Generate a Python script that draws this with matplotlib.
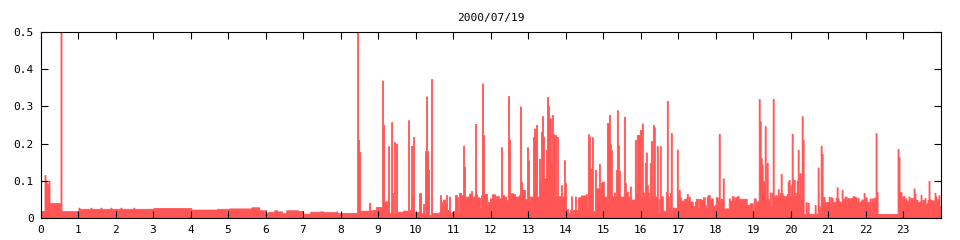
import numpy as np
import matplotlib
matplotlib.use("Agg")
import matplotlib.pyplot as plt

# run-length data: value of each run and how many ~1.6 min samples it lasts
night_levels = [0.018, 0.115, 0.1, 0.093, 0.088, 0.1, 0.04, 0.037, 0.04, 0.036, 0.5, 0.018,
                0.027, 0.024, 0.027, 0.024, 0.027, 0.024, 0.027, 0.024, 0.027, 0.024, 0.027, 0.024, 0.026,
                0.022, 0.024, 0.025, 0.028, 0.02, 0.012, 0.016, 0.02, 0.017, 0.012, 0.02, 0.018, 0.011, 0.016]
night_counts = [4, 1, 1, 1, 1, 1, 5, 1, 4, 1, 1, 17,
                1, 11, 1, 9, 1, 9, 1, 9, 1, 12, 1, 19, 38,
                26, 12, 22, 8, 7, 2, 6, 3, 5, 4, 12, 5, 7, 10]

day_levels = [0.017, 0.015, 0.017, 0.013, 0.5, 0.21, 0.177, 0.019, 0.04, 0.019, 0.021, 0.029,
              0.37, 0.25, 0.044, 0.193, 0.013, 0.258, 0.067, 0.007, 0.204, 0.016, 0.2, 0.016,
              0.019, 0.263, 0.021, 0.194, 0.058, 0.218, 0.015, 0.066, 0.012, 0.037, 0.012, 0.18,
              0.327, 0.18, 0.13, 0.008, 0.374, 0.013, 0.015, 0.061, 0.031, 0.043, 0.049, 0.049,
              0.038, 0.061, 0.021, 0.021, 0.057, 0.012, 0.015, 0.019, 0.061, 0.061, 0.055, 0.012,
              0.067, 0.061, 0.194, 0.138, 0.052, 0.057, 0.065, 0.072, 0.055, 0.058, 0.253, 0.064,
              0.055, 0.053, 0.025, 0.061, 0.362, 0.223, 0.064, 0.028, 0.043, 0.052, 0.063, 0.048,
              0.058, 0.052, 0.19, 0.061, 0.057, 0.048, 0.328, 0.21, 0.066, 0.064, 0.057, 0.061,
              0.3, 0.097, 0.075, 0.05, 0.19, 0.155, 0.045, 0.057, 0.218, 0.24, 0.218, 0.25,
              0.057, 0.159, 0.097, 0.232, 0.274, 0.219, 0.106, 0.106, 0.183, 0.326, 0.302, 0.268,
              0.268, 0.147, 0.277, 0.226, 0.223, 0.223, 0.059, 0.218, 0.058, 0.088, 0.057, 0.155,
              0.094, 0.024, 0.012, 0.021, 0.058, 0.007, 0.021, 0.057, 0.021, 0.055, 0.06, 0.064,
              0.025, 0.225, 0.219, 0.13, 0.133, 0.217, 0.016, 0.018, 0.129, 0.079, 0.145, 0.075,
              0.094, 0.097, 0.057, 0.255, 0.255, 0.277, 0.199, 0.183, 0.057, 0.068, 0.057, 0.129,
              0.29, 0.196, 0.127, 0.057, 0.057, 0.272, 0.094, 0.07, 0.057, 0.084, 0.049, 0.21,
              0.065, 0.223, 0.223]
day_counts = [3, 13, 1, 20, 1, 1, 1, 9, 1, 2, 4, 6,
              1, 1, 4, 1, 2, 1, 1, 1, 1, 1, 1, 6,
              5, 1, 2, 1, 1, 1, 5, 2, 2, 1, 1, 1,
              1, 1, 1, 2, 1, 7, 1, 1, 1, 1, 1, 1,
              1, 1, 1, 1, 1, 2, 2, 1, 1, 1, 1, 1,
              2, 2, 1, 1, 1, 3, 2, 1, 2, 1, 1, 1,
              2, 1, 1, 1, 1, 1, 3, 1, 2, 2, 3, 1,
              3, 2, 1, 2, 2, 2, 1, 1, 3, 2, 4, 1,
              1, 1, 3, 2, 1, 1, 1, 3, 1, 1, 1, 1,
              2, 1, 1, 1, 1, 1, 1, 1, 1, 1, 1, 1,
              1, 1, 1, 1, 1, 1, 1, 1, 3, 1, 2, 1,
              1, 2, 2, 1, 1, 1, 2, 1, 2, 3, 5, 1,
              1, 1, 1, 1, 1, 1, 1, 1, 1, 3, 1, 1,
              1, 2, 3, 1, 1, 1, 1, 1, 2, 1, 1, 1,
              1, 1, 1, 3, 1, 1, 1, 2, 2, 1, 4, 1,
              1, 1, 2]

evening_levels = [0.237, 0.057, 0.254, 0.068, 0.057, 0.148, 0.176, 0.088, 0.068, 0.048, 0.147, 0.207,
                  0.058, 0.25, 0.244, 0.058, 0.055, 0.193, 0.015, 0.05, 0.193, 0.05, 0.058, 0.019,
                  0.07, 0.315, 0.057, 0.025, 0.067, 0.228, 0.021, 0.027, 0.184, 0.061, 0.075, 0.055,
                  0.046, 0.051, 0.052, 0.064, 0.046, 0.057, 0.044, 0.043, 0.031, 0.043, 0.051, 0.025,
                  0.051, 0.048, 0.055, 0.034, 0.025, 0.057, 0.061, 0.045, 0.052, 0.032, 0.034, 0.055,
                  0.055, 0.046, 0.226, 0.046, 0.051, 0.049, 0.106, 0.025, 0.052, 0.046, 0.058, 0.048,
                  0.055, 0.058, 0.048, 0.051, 0.035, 0.039, 0.019, 0.052, 0.04, 0.043, 0.045, 0.32,
                  0.26, 0.161, 0.143, 0.099, 0.094, 0.247, 0.054, 0.148, 0.05, 0.045, 0.068, 0.031,
                  0.067, 0.32, 0.06, 0.054, 0.061, 0.055, 0.077, 0.058, 0.067, 0.118, 0.066, 0.06,
                  0.058, 0.064, 0.097, 0.102, 0.057, 0.087, 0.226, 0.064, 0.102, 0.059, 0.067, 0.1,
                  0.183, 0.063, 0.12, 0.05, 0.274, 0.21, 0.01, 0.042, 0.01, 0.04, 0.01, 0.034,
                  0.011, 0.135, 0.031, 0.027, 0.194, 0.172, 0.056, 0.042, 0.057, 0.037, 0.055, 0.053,
                  0.04, 0.043, 0.043, 0.054, 0.082, 0.052, 0.045, 0.042, 0.075, 0.049, 0.051, 0.057,
                  0.048, 0.053, 0.046, 0.053, 0.058, 0.055, 0.042, 0.053, 0.042, 0.046, 0.049, 0.067,
                  0.052, 0.055, 0.043, 0.039, 0.052, 0.021, 0.052, 0.041, 0.054, 0.054, 0.228, 0.069,
                  0.01, 0.185, 0.163, 0.069, 0.049, 0.058, 0.043, 0.052, 0.046, 0.057, 0.042, 0.053,
                  0.043, 0.079, 0.065, 0.048, 0.042, 0.044, 0.062, 0.04, 0.048, 0.053, 0.035, 0.039,
                  0.048, 0.099, 0.05, 0.047, 0.043, 0.067, 0.057, 0.043, 0.051, 0.061, 0.031]
evening_counts = [1, 1, 1, 1, 1, 1, 1, 1, 1, 1, 1, 1,
                  1, 1, 1, 1, 1, 1, 1, 1, 1, 1, 1, 3,
                  1, 1, 1, 1, 1, 1, 1, 4, 1, 1, 1, 1,
                  3, 2, 1, 1, 1, 1, 2, 1, 2, 1, 2, 1,
                  2, 2, 2, 1, 1, 1, 2, 1, 2, 2, 1, 1,
                  1, 1, 1, 1, 1, 1, 1, 5, 1, 2, 2, 1,
                  2, 2, 1, 7, 3, 3, 1, 2, 1, 1, 1, 1,
                  1, 1, 1, 1, 1, 1, 1, 1, 1, 1, 1, 1,
                  1, 1, 1, 1, 1, 1, 1, 1, 1, 1, 1, 1,
                  3, 1, 1, 1, 1, 1, 1, 1, 1, 1, 1, 1,
                  1, 1, 1, 1, 1, 1, 2, 1, 1, 1, 6, 1,
                  2, 1, 1, 1, 1, 1, 2, 4, 1, 1, 1, 1,
                  1, 1, 1, 1, 1, 1, 1, 2, 1, 1, 1, 2,
                  1, 2, 1, 2, 2, 2, 1, 1, 2, 1, 2, 1,
                  1, 1, 2, 1, 1, 1, 1, 1, 1, 1, 1, 1,
                  20, 1, 1, 2, 1, 2, 1, 1, 2, 1, 1, 2,
                  1, 1, 1, 2, 2, 1, 1, 1, 2, 1, 1, 1,
                  1, 1, 1, 3, 1, 1, 1, 1, 1, 1, 1]

levels = night_levels + day_levels + evening_levels
counts = night_counts + day_counts + evening_counts
values = np.repeat(levels, counts)
hours = np.arange(len(values) + 1) * 24.0 / len(values)

plt.rcParams['font.family'] = 'DejaVu Sans Mono'
fig = plt.figure(figsize=(9.6, 2.4), dpi=100)
ax = fig.add_axes([40.5 / 960, 22.3 / 240, 900 / 960, 185.4 / 240])

ax.fill_between(hours, np.append(values, values[-1]), step='post',
                facecolor='#ff5555', edgecolor='#ff5555', linewidth=0.6,
                antialiased=False)

ax.set_xlim(0, 24)
ax.set_ylim(0, 0.5)
ax.set_xticks(range(24))
ax.set_yticks([0, 0.1, 0.2, 0.3, 0.4, 0.5])
ax.set_yticklabels(['0', '0.1', '0.2', '0.3', '0.4', '0.5'])
ax.tick_params(direction='in', length=5, width=0.8, labelsize=8,
               top=True, right=True, pad=5)
for s in ax.spines.values():
    s.set_linewidth(0.8)
    s.set_zorder(3)
ax.set_title('2000/07/19', fontsize=8, pad=8)

fig.savefig('out.png', dpi=100)
